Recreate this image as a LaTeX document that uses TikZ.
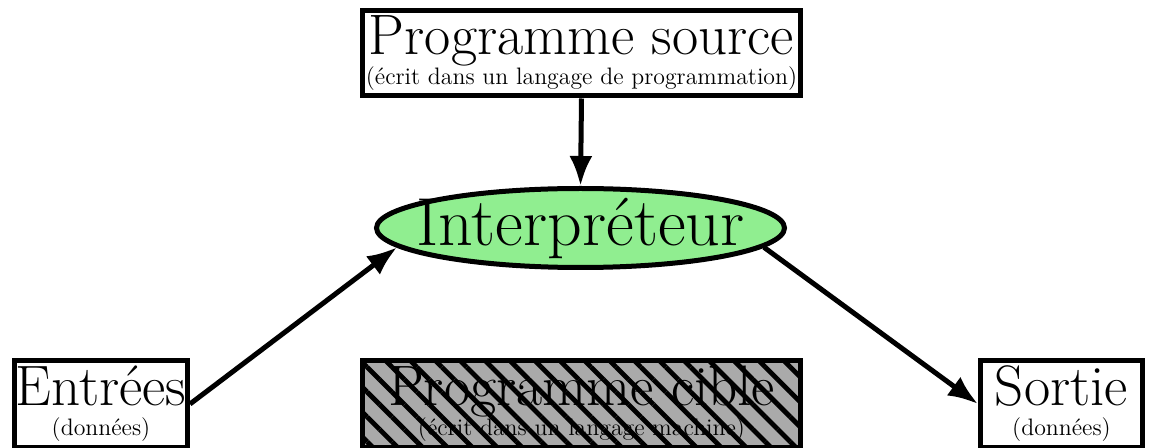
\documentclass[tikz,border=0pt]{standalone}
\usetikzlibrary{shapes.geometric,arrows.meta,patterns.meta}
\newcommand\bigtxt{\fontsize{28.5}{28.5}\selectfont}
\newcommand\smalltxt{\fontsize{11.9}{15}\selectfont\lineskiplimit=-50pt\relax}
\newcommand\interptxt{\fontsize{34}{34}\selectfont}
\definecolor{interpgreen}{RGB}{144,238,144}
\definecolor{ciblegray}{RGB}{170,170,170}
\begin{document}
\begin{tikzpicture}[x=0.5pt,y=-0.5pt,
  box/.style={draw,rectangle,line width=2.5pt,inner sep=0pt,align=center,
    font=\smalltxt},
  conn/.style={line width=2.5pt,-{Latex[length=15pt,width=11.5pt]}}
]
\useasboundingbox (0,0) rectangle (1151,448);

\node[box,minimum width=219pt,minimum height=42.75pt] (source) at (581.5,53.25)
  {{\bigtxt Programme source}\\(écrit dans un langage de programmation)};

\node[ellipse,draw,line width=2.5pt,fill=interpgreen,inner sep=0pt,
  minimum width=204pt,minimum height=39.5pt] (interp) at (580.5,228)
  {\makebox[0pt]{\smash{\raisebox{-9pt}{\interptxt Interpréteur}}}};

\node[box,minimum width=86.5pt,minimum height=43.5pt] (entrees) at (101,404)
  {{\bigtxt Entrées}\\(données)};

\node[box,minimum width=219pt,minimum height=43.5pt,
  preaction={fill=ciblegray},
  pattern={Lines[angle=-45,distance=8.8pt,line width=2.4pt]}] (cible) at (581.5,404)
  {{\bigtxt Programme cible}\\(écrit dans un langage machine)};

\node[box,minimum width=81pt,minimum height=43.5pt] (sortie) at (1061.5,404)
  {{\bigtxt Sortie}\\(données)};

\draw[conn] (source.south) -- (interp.north);
\draw[conn] (entrees.east) -- (interp.186);
\draw[conn] (interp.354) -- (sortie.west);
\end{tikzpicture}
\end{document}
